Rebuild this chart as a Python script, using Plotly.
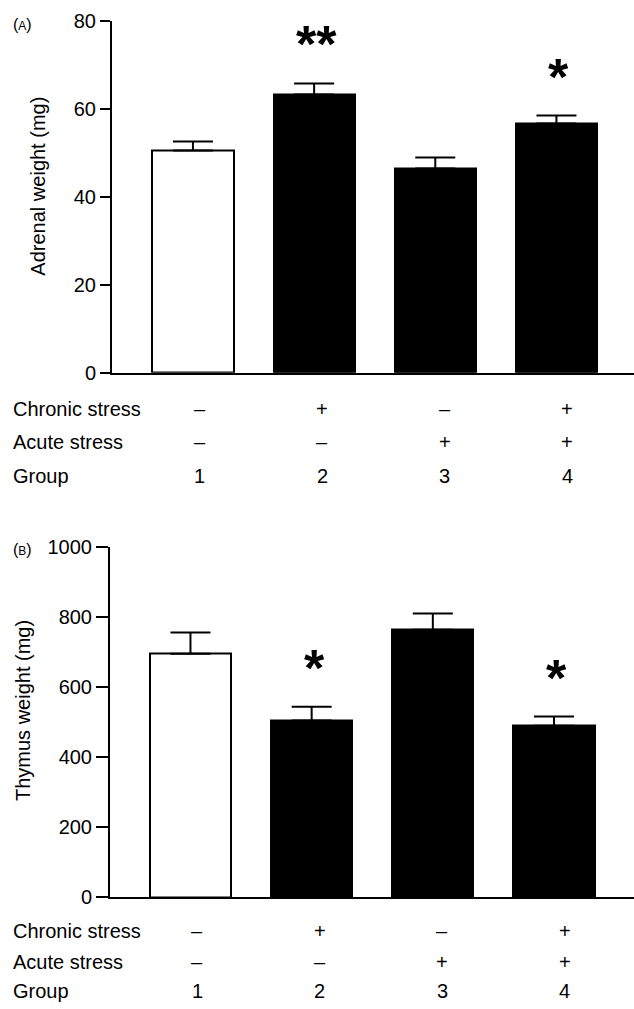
import plotly.graph_objects as go

# ---- data ----
groups = ["1", "2", "3", "4"]
chronic = ["–", "+", "–", "+"]
acute = ["–", "–", "+", "+"]

adrenal_mean = [50.5, 63.2, 46.4, 56.6]
adrenal_err = [2.0, 2.5, 2.5, 1.8]
adrenal_sig = ["", "**", "", "*"]

thymus_mean = [694, 504, 763, 489]
thymus_err = [61, 39, 46, 26]
thymus_sig = ["", "*", "", "*"]

bar_colors = ["white", "black", "black", "black"]
row_labels = ["Chronic stress", "Acute stress", "Group"]

FONT = "Liberation Sans, Arial, Helvetica, sans-serif"
W, H = 634, 1009


def py(y_px):
    """vertical layout calibration: target pixel row -> paper fraction"""
    y = (y_px - 11.5) / 0.9775
    return 1 - y / H


fig = go.Figure()
xs = list(range(len(groups)))

for vals, errs, xa, ya in [(adrenal_mean, adrenal_err, "x", "y"),
                           (thymus_mean, thymus_err, "x2", "y2")]:
    fig.add_trace(go.Bar(
        x=xs, y=vals, width=0.67, xaxis=xa, yaxis=ya,
        marker=dict(color=bar_colors, line=dict(color="black", width=2)),
        error_y=dict(type="data", array=errs, arrayminus=[0] * len(errs),
                     symmetric=False, color="black", thickness=2, width=20),
        showlegend=False, hoverinfo="skip",
    ))

axis_common = dict(showline=True, linecolor="black", linewidth=2,
                   showgrid=False, zeroline=False, mirror=False)

fig.update_layout(
    width=W, height=H, margin=dict(l=0, r=0, t=0, b=0),
    paper_bgcolor="white", plot_bgcolor="white",
    font=dict(family=FONT, size=20, color="black"),
    xaxis=dict(domain=[112 / W, 1], range=[-0.668, 3.64], showticklabels=False,
               ticks="", anchor="y", **axis_common),
    yaxis=dict(domain=[py(373), py(21)], range=[0, 80], tickvals=[0, 20, 40, 60, 80],
               ticks="outside", ticklen=10, tickwidth=2, tickcolor="black",
               anchor="x", **axis_common),
    xaxis2=dict(domain=[110 / W, 1], range=[-0.664, 3.66], showticklabels=False,
                ticks="", anchor="y2", **axis_common),
    yaxis2=dict(domain=[py(897), py(546.7)], range=[0, 1000],
                tickvals=[0, 200, 400, 600, 800, 1000],
                ticks="outside", ticklen=12, tickwidth=2, tickcolor="black",
                anchor="x2", **axis_common),
    bargap=0,
)

ann = []
ann.append(dict(text="Adrenal weight (mg)", textangle=-90, xref="paper", yref="paper",
                x=38 / W, y=py(187), xanchor="center", yanchor="middle",
                showarrow=False, font=dict(size=20)))
ann.append(dict(text="Thymus weight (mg)", textangle=-90, xref="paper", yref="paper",
                x=23 / W, y=py(711), xanchor="center", yanchor="middle",
                showarrow=False, font=dict(size=20)))
ann.append(dict(text="(<span style='font-size:12px'>A</span>)", xref="paper", yref="paper",
                x=11 / W, y=py(25), xanchor="left", yanchor="middle",
                showarrow=False, font=dict(size=16)))
ann.append(dict(text="(<span style='font-size:12px'>B</span>)", xref="paper", yref="paper",
                x=11 / W, y=py(550), xanchor="left", yanchor="middle",
                showarrow=False, font=dict(size=16)))

for vals, errs, sig, xa, ya in [(adrenal_mean, adrenal_err, adrenal_sig, "x", "y"),
                                (thymus_mean, thymus_err, thymus_sig, "x2", "y2")]:
    for i, s in enumerate(sig):
        if s:
            ann.append(dict(text="<b>" + s + "</b>", xref=xa, yref=ya, x=i + 0.02,
                            y=vals[i] + errs[i], yshift=8, xanchor="center",
                            yanchor="bottom", showarrow=False,
                            font=dict(size=52)))

for xa, rows_y in [("x", [409, 442, 476]), ("x2", [931, 962, 991])]:
    for r, (lab, ry) in enumerate(zip(row_labels, rows_y)):
        ann.append(dict(text=lab, xref="paper", yref="paper", x=11 / W, y=py(ry),
                        xanchor="left", yanchor="middle", showarrow=False,
                        font=dict(size=20)))
        vals = [chronic, acute, groups][r]
        for i, v in enumerate(vals):
            ann.append(dict(text=v, xref=xa, yref="paper", x=i, xshift=7 + i * 1.2,
                            y=py(ry), xanchor="center", yanchor="middle",
                            showarrow=False, font=dict(size=20)))

fig.update_layout(annotations=ann)

page_fix = (
    "document.documentElement.style.margin='0';"
    "document.body.style.margin='0';"
    "document.documentElement.style.overflow='hidden';"
    "document.body.style.overflow='hidden';"
    "var g=document.getElementById('{plot_id}');"
    "g.style.position='fixed';g.style.left='0px';g.style.top='0px';"
)
fig.write_html("out.html", config={"displayModeBar": False}, post_script=page_fix)
